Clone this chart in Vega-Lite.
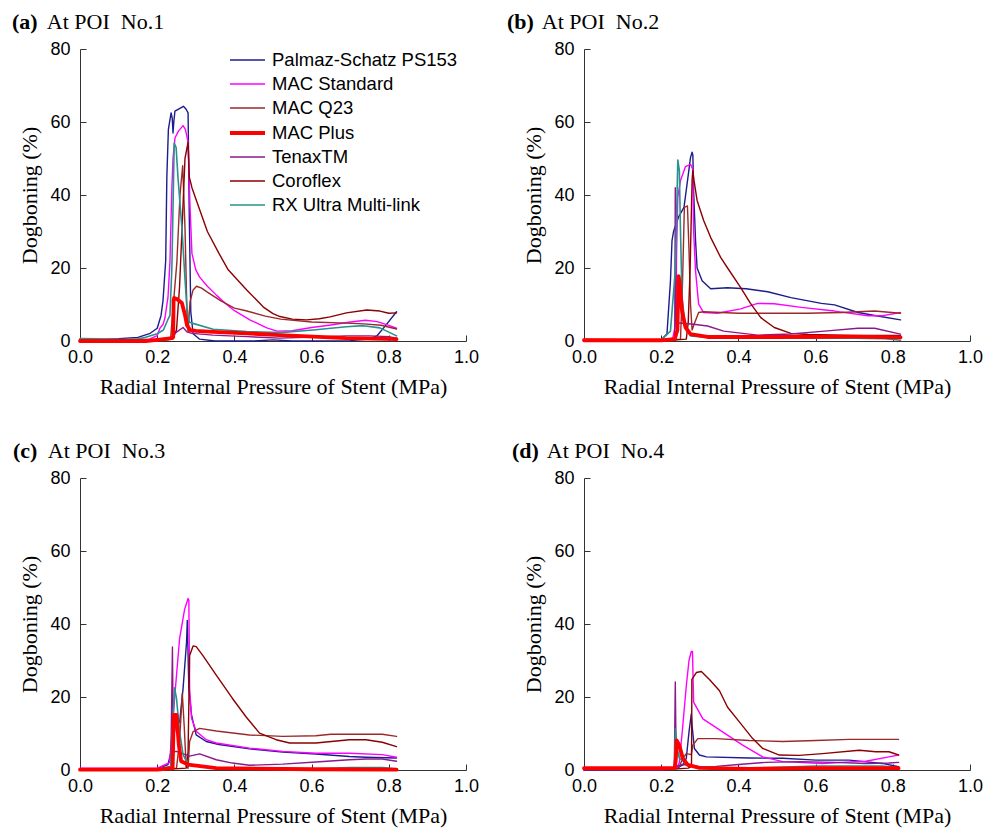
{
"$schema":"https://vega.github.io/schema/vega-lite/v6.json",
"autosize":{"type":"pad"},
"padding":{"left":12,"top":11,"right":5,"bottom":5},
"background":"white",
"datasets":{"dog":[
{"panel":"a","stent":"Palmaz-Schatz PS153","p":0,"d":0.5},{"panel":"a","stent":"Palmaz-Schatz PS153","p":0.05,"d":0.4},{"panel":"a","stent":"Palmaz-Schatz PS153","p":0.1,"d":0.6},{"panel":"a","stent":"Palmaz-Schatz PS153","p":0.15,"d":1},{"panel":"a","stent":"Palmaz-Schatz PS153","p":0.18,"d":2},{"panel":"a","stent":"Palmaz-Schatz PS153","p":0.2,"d":3.5},{"panel":"a","stent":"Palmaz-Schatz PS153","p":0.21,"d":7},{"panel":"a","stent":"Palmaz-Schatz PS153","p":0.215,"d":11},{"panel":"a","stent":"Palmaz-Schatz PS153","p":0.222,"d":22},{"panel":"a","stent":"Palmaz-Schatz PS153","p":0.225,"d":45},{"panel":"a","stent":"Palmaz-Schatz PS153","p":0.229,"d":58},{"panel":"a","stent":"Palmaz-Schatz PS153","p":0.236,"d":62.5},{"panel":"a","stent":"Palmaz-Schatz PS153","p":0.239,"d":61},{"panel":"a","stent":"Palmaz-Schatz PS153","p":0.241,"d":57},{"panel":"a","stent":"Palmaz-Schatz PS153","p":0.243,"d":60},{"panel":"a","stent":"Palmaz-Schatz PS153","p":0.246,"d":63},{"panel":"a","stent":"Palmaz-Schatz PS153","p":0.26,"d":63.8},{"panel":"a","stent":"Palmaz-Schatz PS153","p":0.268,"d":64.3},{"panel":"a","stent":"Palmaz-Schatz PS153","p":0.275,"d":63.5},{"panel":"a","stent":"Palmaz-Schatz PS153","p":0.28,"d":62.5},{"panel":"a","stent":"Palmaz-Schatz PS153","p":0.283,"d":35},{"panel":"a","stent":"Palmaz-Schatz PS153","p":0.287,"d":8},{"panel":"a","stent":"Palmaz-Schatz PS153","p":0.293,"d":2},{"panel":"a","stent":"Palmaz-Schatz PS153","p":0.31,"d":0.5},{"panel":"a","stent":"Palmaz-Schatz PS153","p":0.35,"d":0},{"panel":"a","stent":"Palmaz-Schatz PS153","p":0.45,"d":0},{"panel":"a","stent":"Palmaz-Schatz PS153","p":0.5,"d":0.3},{"panel":"a","stent":"Palmaz-Schatz PS153","p":0.55,"d":0},{"panel":"a","stent":"Palmaz-Schatz PS153","p":0.7,"d":0.1},{"panel":"a","stent":"Palmaz-Schatz PS153","p":0.75,"d":0.5},{"panel":"a","stent":"Palmaz-Schatz PS153","p":0.77,"d":1.5},{"panel":"a","stent":"Palmaz-Schatz PS153","p":0.79,"d":4},{"panel":"a","stent":"Palmaz-Schatz PS153","p":0.82,"d":8},
{"panel":"a","stent":"MAC Standard","p":0,"d":0.3},{"panel":"a","stent":"MAC Standard","p":0.1,"d":0.2},{"panel":"a","stent":"MAC Standard","p":0.18,"d":0.5},{"panel":"a","stent":"MAC Standard","p":0.2,"d":1.5},{"panel":"a","stent":"MAC Standard","p":0.207,"d":3.5},{"panel":"a","stent":"MAC Standard","p":0.215,"d":4.5},{"panel":"a","stent":"MAC Standard","p":0.22,"d":6.3},{"panel":"a","stent":"MAC Standard","p":0.228,"d":12},{"panel":"a","stent":"MAC Standard","p":0.233,"d":21.6},{"panel":"a","stent":"MAC Standard","p":0.238,"d":42},{"panel":"a","stent":"MAC Standard","p":0.241,"d":50},{"panel":"a","stent":"MAC Standard","p":0.246,"d":55.6},{"panel":"a","stent":"MAC Standard","p":0.255,"d":57.5},{"panel":"a","stent":"MAC Standard","p":0.267,"d":59},{"panel":"a","stent":"MAC Standard","p":0.273,"d":58},{"panel":"a","stent":"MAC Standard","p":0.28,"d":54.5},{"panel":"a","stent":"MAC Standard","p":0.285,"d":37},{"panel":"a","stent":"MAC Standard","p":0.29,"d":24},{"panel":"a","stent":"MAC Standard","p":0.3,"d":19.5},{"panel":"a","stent":"MAC Standard","p":0.31,"d":17.5},{"panel":"a","stent":"MAC Standard","p":0.33,"d":15},{"panel":"a","stent":"MAC Standard","p":0.354,"d":12.5},{"panel":"a","stent":"MAC Standard","p":0.38,"d":10},{"panel":"a","stent":"MAC Standard","p":0.4,"d":8.3},{"panel":"a","stent":"MAC Standard","p":0.44,"d":5.8},{"panel":"a","stent":"MAC Standard","p":0.484,"d":3.6},{"panel":"a","stent":"MAC Standard","p":0.51,"d":2.7},{"panel":"a","stent":"MAC Standard","p":0.55,"d":2.8},{"panel":"a","stent":"MAC Standard","p":0.6,"d":3.7},{"panel":"a","stent":"MAC Standard","p":0.65,"d":4.4},{"panel":"a","stent":"MAC Standard","p":0.7,"d":5.2},{"panel":"a","stent":"MAC Standard","p":0.74,"d":5.7},{"panel":"a","stent":"MAC Standard","p":0.77,"d":5.3},{"panel":"a","stent":"MAC Standard","p":0.8,"d":4.3},{"panel":"a","stent":"MAC Standard","p":0.82,"d":3.5},
{"panel":"a","stent":"MAC Q23","p":0,"d":0},{"panel":"a","stent":"MAC Q23","p":0.2,"d":0},{"panel":"a","stent":"MAC Q23","p":0.235,"d":1},{"panel":"a","stent":"MAC Q23","p":0.241,"d":9},{"panel":"a","stent":"MAC Q23","p":0.251,"d":21.6},{"panel":"a","stent":"MAC Q23","p":0.259,"d":40},{"panel":"a","stent":"MAC Q23","p":0.266,"d":48},{"panel":"a","stent":"MAC Q23","p":0.272,"d":31},{"panel":"a","stent":"MAC Q23","p":0.277,"d":8},{"panel":"a","stent":"MAC Q23","p":0.28,"d":2.5},{"panel":"a","stent":"MAC Q23","p":0.285,"d":10.7},{"panel":"a","stent":"MAC Q23","p":0.293,"d":14},{"panel":"a","stent":"MAC Q23","p":0.302,"d":15},{"panel":"a","stent":"MAC Q23","p":0.315,"d":14.5},{"panel":"a","stent":"MAC Q23","p":0.33,"d":13.4},{"panel":"a","stent":"MAC Q23","p":0.365,"d":11},{"panel":"a","stent":"MAC Q23","p":0.4,"d":9},{"panel":"a","stent":"MAC Q23","p":0.43,"d":8.3},{"panel":"a","stent":"MAC Q23","p":0.48,"d":6.8},{"panel":"a","stent":"MAC Q23","p":0.52,"d":6},{"panel":"a","stent":"MAC Q23","p":0.6,"d":5.2},{"panel":"a","stent":"MAC Q23","p":0.69,"d":4.9},{"panel":"a","stent":"MAC Q23","p":0.735,"d":4.7},{"panel":"a","stent":"MAC Q23","p":0.78,"d":4.3},{"panel":"a","stent":"MAC Q23","p":0.82,"d":3.3},
{"panel":"a","stent":"Coroflex","p":0,"d":0},{"panel":"a","stent":"Coroflex","p":0.2,"d":0},{"panel":"a","stent":"Coroflex","p":0.24,"d":0.5},{"panel":"a","stent":"Coroflex","p":0.25,"d":3},{"panel":"a","stent":"Coroflex","p":0.258,"d":15},{"panel":"a","stent":"Coroflex","p":0.266,"d":35},{"panel":"a","stent":"Coroflex","p":0.272,"d":50},{"panel":"a","stent":"Coroflex","p":0.28,"d":54.5},{"panel":"a","stent":"Coroflex","p":0.283,"d":45},{"panel":"a","stent":"Coroflex","p":0.29,"d":42},{"panel":"a","stent":"Coroflex","p":0.3,"d":39},{"panel":"a","stent":"Coroflex","p":0.33,"d":30},{"panel":"a","stent":"Coroflex","p":0.36,"d":24},{"panel":"a","stent":"Coroflex","p":0.384,"d":19.5},{"panel":"a","stent":"Coroflex","p":0.41,"d":16.5},{"panel":"a","stent":"Coroflex","p":0.432,"d":14},{"panel":"a","stent":"Coroflex","p":0.455,"d":11.5},{"panel":"a","stent":"Coroflex","p":0.475,"d":9.3},{"panel":"a","stent":"Coroflex","p":0.5,"d":7.5},{"panel":"a","stent":"Coroflex","p":0.518,"d":6.7},{"panel":"a","stent":"Coroflex","p":0.55,"d":6},{"panel":"a","stent":"Coroflex","p":0.587,"d":5.8},{"panel":"a","stent":"Coroflex","p":0.62,"d":6.1},{"panel":"a","stent":"Coroflex","p":0.648,"d":6.6},{"panel":"a","stent":"Coroflex","p":0.69,"d":7.7},{"panel":"a","stent":"Coroflex","p":0.743,"d":8.5},{"panel":"a","stent":"Coroflex","p":0.777,"d":8.2},{"panel":"a","stent":"Coroflex","p":0.8,"d":7.6},{"panel":"a","stent":"Coroflex","p":0.82,"d":7.7},
{"panel":"a","stent":"TenaxTM","p":0,"d":0.2},{"panel":"a","stent":"TenaxTM","p":0.2,"d":0.2},{"panel":"a","stent":"TenaxTM","p":0.235,"d":0.8},{"panel":"a","stent":"TenaxTM","p":0.245,"d":2},{"panel":"a","stent":"TenaxTM","p":0.251,"d":2.5},{"panel":"a","stent":"TenaxTM","p":0.267,"d":3.7},{"panel":"a","stent":"TenaxTM","p":0.277,"d":2.5},{"panel":"a","stent":"TenaxTM","p":0.29,"d":2.1},{"panel":"a","stent":"TenaxTM","p":0.345,"d":1.6},{"panel":"a","stent":"TenaxTM","p":0.432,"d":1.2},{"panel":"a","stent":"TenaxTM","p":0.518,"d":0.8},{"panel":"a","stent":"TenaxTM","p":0.604,"d":1.1},{"panel":"a","stent":"TenaxTM","p":0.69,"d":1.4},{"panel":"a","stent":"TenaxTM","p":0.75,"d":1.4},{"panel":"a","stent":"TenaxTM","p":0.8,"d":1.2},{"panel":"a","stent":"TenaxTM","p":0.82,"d":0.8},
{"panel":"a","stent":"RX Ultra Multi-link","p":0,"d":0.7},{"panel":"a","stent":"RX Ultra Multi-link","p":0.05,"d":0.6},{"panel":"a","stent":"RX Ultra Multi-link","p":0.1,"d":0.4},{"panel":"a","stent":"RX Ultra Multi-link","p":0.15,"d":0.6},{"panel":"a","stent":"RX Ultra Multi-link","p":0.17,"d":1},{"panel":"a","stent":"RX Ultra Multi-link","p":0.2,"d":2},{"panel":"a","stent":"RX Ultra Multi-link","p":0.216,"d":3},{"panel":"a","stent":"RX Ultra Multi-link","p":0.227,"d":5.7},{"panel":"a","stent":"RX Ultra Multi-link","p":0.233,"d":7},{"panel":"a","stent":"RX Ultra Multi-link","p":0.238,"d":20},{"panel":"a","stent":"RX Ultra Multi-link","p":0.24,"d":31},{"panel":"a","stent":"RX Ultra Multi-link","p":0.244,"d":54.2},{"panel":"a","stent":"RX Ultra Multi-link","p":0.249,"d":53},{"panel":"a","stent":"RX Ultra Multi-link","p":0.254,"d":44.6},{"panel":"a","stent":"RX Ultra Multi-link","p":0.264,"d":31},{"panel":"a","stent":"RX Ultra Multi-link","p":0.272,"d":17},{"panel":"a","stent":"RX Ultra Multi-link","p":0.277,"d":9},{"panel":"a","stent":"RX Ultra Multi-link","p":0.283,"d":5.2},{"panel":"a","stent":"RX Ultra Multi-link","p":0.29,"d":4.9},{"panel":"a","stent":"RX Ultra Multi-link","p":0.345,"d":3.2},{"panel":"a","stent":"RX Ultra Multi-link","p":0.432,"d":2.6},{"panel":"a","stent":"RX Ultra Multi-link","p":0.518,"d":2.3},{"panel":"a","stent":"RX Ultra Multi-link","p":0.604,"d":3},{"panel":"a","stent":"RX Ultra Multi-link","p":0.69,"d":3.9},{"panel":"a","stent":"RX Ultra Multi-link","p":0.734,"d":4.2},{"panel":"a","stent":"RX Ultra Multi-link","p":0.777,"d":3.6},{"panel":"a","stent":"RX Ultra Multi-link","p":0.82,"d":1.4},
{"panel":"a","stent":"MAC Plus","p":0,"d":0},{"panel":"a","stent":"MAC Plus","p":0.17,"d":0},{"panel":"a","stent":"MAC Plus","p":0.2,"d":0.3},{"panel":"a","stent":"MAC Plus","p":0.233,"d":0.7},{"panel":"a","stent":"MAC Plus","p":0.2415,"d":1},{"panel":"a","stent":"MAC Plus","p":0.2425,"d":11.2},{"panel":"a","stent":"MAC Plus","p":0.244,"d":11.8},{"panel":"a","stent":"MAC Plus","p":0.251,"d":11.5},{"panel":"a","stent":"MAC Plus","p":0.264,"d":10.4},{"panel":"a","stent":"MAC Plus","p":0.272,"d":7.1},{"panel":"a","stent":"MAC Plus","p":0.277,"d":4.4},{"panel":"a","stent":"MAC Plus","p":0.285,"d":3},{"panel":"a","stent":"MAC Plus","p":0.3,"d":2.8},{"panel":"a","stent":"MAC Plus","p":0.345,"d":2.5},{"panel":"a","stent":"MAC Plus","p":0.432,"d":2.1},{"panel":"a","stent":"MAC Plus","p":0.518,"d":1.6},{"panel":"a","stent":"MAC Plus","p":0.604,"d":1.2},{"panel":"a","stent":"MAC Plus","p":0.69,"d":0.8},{"panel":"a","stent":"MAC Plus","p":0.82,"d":0.5},

{"panel":"b","stent":"Palmaz-Schatz PS153","p":0,"d":0.3},{"panel":"b","stent":"Palmaz-Schatz PS153","p":0.2,"d":0.3},{"panel":"b","stent":"Palmaz-Schatz PS153","p":0.215,"d":2},{"panel":"b","stent":"Palmaz-Schatz PS153","p":0.224,"d":16.5},{"panel":"b","stent":"Palmaz-Schatz PS153","p":0.228,"d":27.5},{"panel":"b","stent":"Palmaz-Schatz PS153","p":0.232,"d":30},{"panel":"b","stent":"Palmaz-Schatz PS153","p":0.245,"d":34},{"panel":"b","stent":"Palmaz-Schatz PS153","p":0.259,"d":36.6},{"panel":"b","stent":"Palmaz-Schatz PS153","p":0.267,"d":43},{"panel":"b","stent":"Palmaz-Schatz PS153","p":0.276,"d":50.3},{"panel":"b","stent":"Palmaz-Schatz PS153","p":0.28,"d":51.7},{"panel":"b","stent":"Palmaz-Schatz PS153","p":0.282,"d":51},{"panel":"b","stent":"Palmaz-Schatz PS153","p":0.284,"d":41},{"panel":"b","stent":"Palmaz-Schatz PS153","p":0.289,"d":27.5},{"panel":"b","stent":"Palmaz-Schatz PS153","p":0.293,"d":20},{"panel":"b","stent":"Palmaz-Schatz PS153","p":0.306,"d":16.5},{"panel":"b","stent":"Palmaz-Schatz PS153","p":0.328,"d":14.3},{"panel":"b","stent":"Palmaz-Schatz PS153","p":0.372,"d":14.6},{"panel":"b","stent":"Palmaz-Schatz PS153","p":0.42,"d":14.3},{"panel":"b","stent":"Palmaz-Schatz PS153","p":0.476,"d":13.5},{"panel":"b","stent":"Palmaz-Schatz PS153","p":0.536,"d":11.9},{"panel":"b","stent":"Palmaz-Schatz PS153","p":0.615,"d":10.3},{"panel":"b","stent":"Palmaz-Schatz PS153","p":0.649,"d":9.9},{"panel":"b","stent":"Palmaz-Schatz PS153","p":0.71,"d":7.8},{"panel":"b","stent":"Palmaz-Schatz PS153","p":0.753,"d":7},{"panel":"b","stent":"Palmaz-Schatz PS153","p":0.82,"d":5.8},
{"panel":"b","stent":"MAC Standard","p":0,"d":0.3},{"panel":"b","stent":"MAC Standard","p":0.2,"d":0.3},{"panel":"b","stent":"MAC Standard","p":0.23,"d":0.8},{"panel":"b","stent":"MAC Standard","p":0.238,"d":5},{"panel":"b","stent":"MAC Standard","p":0.24,"d":25},{"panel":"b","stent":"MAC Standard","p":0.243,"d":39.4},{"panel":"b","stent":"MAC Standard","p":0.25,"d":44},{"panel":"b","stent":"MAC Standard","p":0.263,"d":47.8},{"panel":"b","stent":"MAC Standard","p":0.276,"d":48.4},{"panel":"b","stent":"MAC Standard","p":0.282,"d":47},{"panel":"b","stent":"MAC Standard","p":0.284,"d":30},{"panel":"b","stent":"MAC Standard","p":0.289,"d":19.2},{"panel":"b","stent":"MAC Standard","p":0.297,"d":10.1},{"panel":"b","stent":"MAC Standard","p":0.31,"d":7.8},{"panel":"b","stent":"MAC Standard","p":0.346,"d":7.6},{"panel":"b","stent":"MAC Standard","p":0.406,"d":8.8},{"panel":"b","stent":"MAC Standard","p":0.45,"d":10.3},{"panel":"b","stent":"MAC Standard","p":0.493,"d":10.2},{"panel":"b","stent":"MAC Standard","p":0.563,"d":9.2},{"panel":"b","stent":"MAC Standard","p":0.649,"d":8.2},{"panel":"b","stent":"MAC Standard","p":0.736,"d":6.9},{"panel":"b","stent":"MAC Standard","p":0.771,"d":6.9},{"panel":"b","stent":"MAC Standard","p":0.82,"d":7.8},
{"panel":"b","stent":"MAC Q23","p":0,"d":0},{"panel":"b","stent":"MAC Q23","p":0.2,"d":0},{"panel":"b","stent":"MAC Q23","p":0.25,"d":0.5},{"panel":"b","stent":"MAC Q23","p":0.255,"d":15},{"panel":"b","stent":"MAC Q23","p":0.26,"d":36.6},{"panel":"b","stent":"MAC Q23","p":0.268,"d":37},{"panel":"b","stent":"MAC Q23","p":0.272,"d":25},{"panel":"b","stent":"MAC Q23","p":0.276,"d":10},{"panel":"b","stent":"MAC Q23","p":0.28,"d":3},{"panel":"b","stent":"MAC Q23","p":0.285,"d":4.5},{"panel":"b","stent":"MAC Q23","p":0.297,"d":7.8},{"panel":"b","stent":"MAC Q23","p":0.31,"d":8},{"panel":"b","stent":"MAC Q23","p":0.4,"d":7.6},{"panel":"b","stent":"MAC Q23","p":0.58,"d":7.6},{"panel":"b","stent":"MAC Q23","p":0.667,"d":7.8},{"panel":"b","stent":"MAC Q23","p":0.753,"d":8.2},{"panel":"b","stent":"MAC Q23","p":0.82,"d":7.6},
{"panel":"b","stent":"Coroflex","p":0,"d":0},{"panel":"b","stent":"Coroflex","p":0.2,"d":0},{"panel":"b","stent":"Coroflex","p":0.265,"d":0.5},{"panel":"b","stent":"Coroflex","p":0.27,"d":5},{"panel":"b","stent":"Coroflex","p":0.275,"d":20},{"panel":"b","stent":"Coroflex","p":0.28,"d":44},{"panel":"b","stent":"Coroflex","p":0.282,"d":46.7},{"panel":"b","stent":"Coroflex","p":0.285,"d":44},{"panel":"b","stent":"Coroflex","p":0.293,"d":38.5},{"panel":"b","stent":"Coroflex","p":0.31,"d":33},{"panel":"b","stent":"Coroflex","p":0.328,"d":28.4},{"panel":"b","stent":"Coroflex","p":0.354,"d":22.9},{"panel":"b","stent":"Coroflex","p":0.372,"d":20},{"panel":"b","stent":"Coroflex","p":0.406,"d":14.6},{"panel":"b","stent":"Coroflex","p":0.43,"d":10.5},{"panel":"b","stent":"Coroflex","p":0.458,"d":6.4},{"panel":"b","stent":"Coroflex","p":0.493,"d":3.7},{"panel":"b","stent":"Coroflex","p":0.536,"d":2.1},{"panel":"b","stent":"Coroflex","p":0.58,"d":1.8},{"panel":"b","stent":"Coroflex","p":0.7,"d":1.5},{"panel":"b","stent":"Coroflex","p":0.82,"d":1.5},
{"panel":"b","stent":"TenaxTM","p":0,"d":0},{"panel":"b","stent":"TenaxTM","p":0.2,"d":0},{"panel":"b","stent":"TenaxTM","p":0.235,"d":0.5},{"panel":"b","stent":"TenaxTM","p":0.2365,"d":42},{"panel":"b","stent":"TenaxTM","p":0.238,"d":5},{"panel":"b","stent":"TenaxTM","p":0.241,"d":5},{"panel":"b","stent":"TenaxTM","p":0.284,"d":4.6},{"panel":"b","stent":"TenaxTM","p":0.32,"d":4.1},{"panel":"b","stent":"TenaxTM","p":0.362,"d":2.7},{"panel":"b","stent":"TenaxTM","p":0.45,"d":1.6},{"panel":"b","stent":"TenaxTM","p":0.536,"d":1.9},{"panel":"b","stent":"TenaxTM","p":0.623,"d":2.7},{"panel":"b","stent":"TenaxTM","p":0.71,"d":3.5},{"panel":"b","stent":"TenaxTM","p":0.753,"d":3.5},{"panel":"b","stent":"TenaxTM","p":0.82,"d":1.9},
{"panel":"b","stent":"RX Ultra Multi-link","p":0,"d":0.5},{"panel":"b","stent":"RX Ultra Multi-link","p":0.1,"d":0.3},{"panel":"b","stent":"RX Ultra Multi-link","p":0.2,"d":0.3},{"panel":"b","stent":"RX Ultra Multi-link","p":0.224,"d":2.7},{"panel":"b","stent":"RX Ultra Multi-link","p":0.237,"d":20},{"panel":"b","stent":"RX Ultra Multi-link","p":0.243,"d":49.6},{"panel":"b","stent":"RX Ultra Multi-link","p":0.247,"d":46.7},{"panel":"b","stent":"RX Ultra Multi-link","p":0.25,"d":30},{"panel":"b","stent":"RX Ultra Multi-link","p":0.254,"d":11.9},{"panel":"b","stent":"RX Ultra Multi-link","p":0.263,"d":3.7},{"panel":"b","stent":"RX Ultra Multi-link","p":0.276,"d":1.4},{"panel":"b","stent":"RX Ultra Multi-link","p":0.35,"d":0.8},{"panel":"b","stent":"RX Ultra Multi-link","p":0.7,"d":0.8},{"panel":"b","stent":"RX Ultra Multi-link","p":0.78,"d":0.6},{"panel":"b","stent":"RX Ultra Multi-link","p":0.82,"d":0.2},
{"panel":"b","stent":"MAC Plus","p":0,"d":0.2},{"panel":"b","stent":"MAC Plus","p":0.2,"d":0.2},{"panel":"b","stent":"MAC Plus","p":0.235,"d":0.5},{"panel":"b","stent":"MAC Plus","p":0.242,"d":3},{"panel":"b","stent":"MAC Plus","p":0.245,"d":17.8},{"panel":"b","stent":"MAC Plus","p":0.248,"d":16},{"panel":"b","stent":"MAC Plus","p":0.254,"d":8.2},{"panel":"b","stent":"MAC Plus","p":0.263,"d":3.7},{"panel":"b","stent":"MAC Plus","p":0.276,"d":1.9},{"panel":"b","stent":"MAC Plus","p":0.32,"d":1.1},{"panel":"b","stent":"MAC Plus","p":0.5,"d":1.1},{"panel":"b","stent":"MAC Plus","p":0.7,"d":1.2},{"panel":"b","stent":"MAC Plus","p":0.82,"d":1},

{"panel":"c","stent":"Palmaz-Schatz PS153","p":0,"d":0.3},{"panel":"c","stent":"Palmaz-Schatz PS153","p":0.2,"d":0.3},{"panel":"c","stent":"Palmaz-Schatz PS153","p":0.228,"d":1.5},{"panel":"c","stent":"Palmaz-Schatz PS153","p":0.24,"d":6.9},{"panel":"c","stent":"Palmaz-Schatz PS153","p":0.25,"d":14.2},{"panel":"c","stent":"Palmaz-Schatz PS153","p":0.258,"d":13},{"panel":"c","stent":"Palmaz-Schatz PS153","p":0.267,"d":22.3},{"panel":"c","stent":"Palmaz-Schatz PS153","p":0.276,"d":35},{"panel":"c","stent":"Palmaz-Schatz PS153","p":0.278,"d":41},{"panel":"c","stent":"Palmaz-Schatz PS153","p":0.282,"d":22.3},{"panel":"c","stent":"Palmaz-Schatz PS153","p":0.289,"d":15},{"panel":"c","stent":"Palmaz-Schatz PS153","p":0.301,"d":9.6},{"panel":"c","stent":"Palmaz-Schatz PS153","p":0.327,"d":7.8},{"panel":"c","stent":"Palmaz-Schatz PS153","p":0.36,"d":7},{"panel":"c","stent":"Palmaz-Schatz PS153","p":0.439,"d":5.8},{"panel":"c","stent":"Palmaz-Schatz PS153","p":0.525,"d":4.9},{"panel":"c","stent":"Palmaz-Schatz PS153","p":0.611,"d":4.4},{"panel":"c","stent":"Palmaz-Schatz PS153","p":0.698,"d":3.7},{"panel":"c","stent":"Palmaz-Schatz PS153","p":0.741,"d":3.5},{"panel":"c","stent":"Palmaz-Schatz PS153","p":0.82,"d":3.3},
{"panel":"c","stent":"MAC Standard","p":0,"d":0.5},{"panel":"c","stent":"MAC Standard","p":0.2,"d":0.5},{"panel":"c","stent":"MAC Standard","p":0.232,"d":2},{"panel":"c","stent":"MAC Standard","p":0.245,"d":19.6},{"panel":"c","stent":"MAC Standard","p":0.258,"d":36},{"panel":"c","stent":"MAC Standard","p":0.271,"d":44},{"panel":"c","stent":"MAC Standard","p":0.28,"d":47},{"panel":"c","stent":"MAC Standard","p":0.282,"d":46.5},{"panel":"c","stent":"MAC Standard","p":0.284,"d":22.3},{"panel":"c","stent":"MAC Standard","p":0.289,"d":14.2},{"panel":"c","stent":"MAC Standard","p":0.301,"d":10.6},{"panel":"c","stent":"MAC Standard","p":0.327,"d":8.3},{"panel":"c","stent":"MAC Standard","p":0.353,"d":7.4},{"panel":"c","stent":"MAC Standard","p":0.439,"d":6},{"panel":"c","stent":"MAC Standard","p":0.525,"d":5.1},{"panel":"c","stent":"MAC Standard","p":0.611,"d":4.6},{"panel":"c","stent":"MAC Standard","p":0.698,"d":4.6},{"panel":"c","stent":"MAC Standard","p":0.783,"d":4.2},{"panel":"c","stent":"MAC Standard","p":0.82,"d":3.5},
{"panel":"c","stent":"MAC Q23","p":0,"d":0},{"panel":"c","stent":"MAC Q23","p":0.2,"d":0},{"panel":"c","stent":"MAC Q23","p":0.25,"d":0.5},{"panel":"c","stent":"MAC Q23","p":0.258,"d":8},{"panel":"c","stent":"MAC Q23","p":0.265,"d":21},{"panel":"c","stent":"MAC Q23","p":0.27,"d":12},{"panel":"c","stent":"MAC Q23","p":0.275,"d":1},{"panel":"c","stent":"MAC Q23","p":0.28,"d":0.5},{"panel":"c","stent":"MAC Q23","p":0.284,"d":7.8},{"panel":"c","stent":"MAC Q23","p":0.293,"d":10.5},{"panel":"c","stent":"MAC Q23","p":0.31,"d":11.4},{"panel":"c","stent":"MAC Q23","p":0.353,"d":10.7},{"panel":"c","stent":"MAC Q23","p":0.439,"d":9.6},{"panel":"c","stent":"MAC Q23","p":0.525,"d":9.2},{"panel":"c","stent":"MAC Q23","p":0.611,"d":9.4},{"panel":"c","stent":"MAC Q23","p":0.65,"d":9.8},{"panel":"c","stent":"MAC Q23","p":0.783,"d":9.8},{"panel":"c","stent":"MAC Q23","p":0.82,"d":9.2},
{"panel":"c","stent":"Coroflex","p":0,"d":0},{"panel":"c","stent":"Coroflex","p":0.2,"d":0},{"panel":"c","stent":"Coroflex","p":0.275,"d":0.5},{"panel":"c","stent":"Coroflex","p":0.28,"d":5},{"panel":"c","stent":"Coroflex","p":0.284,"d":31.4},{"panel":"c","stent":"Coroflex","p":0.293,"d":34},{"panel":"c","stent":"Coroflex","p":0.301,"d":33.8},{"panel":"c","stent":"Coroflex","p":0.318,"d":31.4},{"panel":"c","stent":"Coroflex","p":0.353,"d":26},{"panel":"c","stent":"Coroflex","p":0.395,"d":19.6},{"panel":"c","stent":"Coroflex","p":0.43,"d":14.6},{"panel":"c","stent":"Coroflex","p":0.465,"d":10.1},{"panel":"c","stent":"Coroflex","p":0.508,"d":8.3},{"panel":"c","stent":"Coroflex","p":0.543,"d":7.4},{"panel":"c","stent":"Coroflex","p":0.611,"d":7.4},{"panel":"c","stent":"Coroflex","p":0.698,"d":8.3},{"panel":"c","stent":"Coroflex","p":0.741,"d":8.3},{"panel":"c","stent":"Coroflex","p":0.783,"d":7.6},{"panel":"c","stent":"Coroflex","p":0.82,"d":6.4},
{"panel":"c","stent":"TenaxTM","p":0,"d":0.3},{"panel":"c","stent":"TenaxTM","p":0.2,"d":0.3},{"panel":"c","stent":"TenaxTM","p":0.235,"d":0.5},{"panel":"c","stent":"TenaxTM","p":0.2395,"d":33.7},{"panel":"c","stent":"TenaxTM","p":0.242,"d":5},{"panel":"c","stent":"TenaxTM","p":0.25,"d":5.1},{"panel":"c","stent":"TenaxTM","p":0.284,"d":3.8},{"panel":"c","stent":"TenaxTM","p":0.31,"d":4.4},{"panel":"c","stent":"TenaxTM","p":0.353,"d":2.8},{"panel":"c","stent":"TenaxTM","p":0.395,"d":1.9},{"panel":"c","stent":"TenaxTM","p":0.439,"d":1.3},{"panel":"c","stent":"TenaxTM","p":0.525,"d":1.6},{"panel":"c","stent":"TenaxTM","p":0.611,"d":2.2},{"panel":"c","stent":"TenaxTM","p":0.698,"d":2.8},{"panel":"c","stent":"TenaxTM","p":0.741,"d":3},{"panel":"c","stent":"TenaxTM","p":0.783,"d":3},{"panel":"c","stent":"TenaxTM","p":0.82,"d":2.4},
{"panel":"c","stent":"RX Ultra Multi-link","p":0,"d":0.2},{"panel":"c","stent":"RX Ultra Multi-link","p":0.2,"d":0.2},{"panel":"c","stent":"RX Ultra Multi-link","p":0.235,"d":1},{"panel":"c","stent":"RX Ultra Multi-link","p":0.245,"d":22.5},{"panel":"c","stent":"RX Ultra Multi-link","p":0.25,"d":19.6},{"panel":"c","stent":"RX Ultra Multi-link","p":0.258,"d":10.5},{"panel":"c","stent":"RX Ultra Multi-link","p":0.267,"d":4.2},{"panel":"c","stent":"RX Ultra Multi-link","p":0.28,"d":1.5},{"panel":"c","stent":"RX Ultra Multi-link","p":0.353,"d":0.5},{"panel":"c","stent":"RX Ultra Multi-link","p":0.611,"d":0.3},{"panel":"c","stent":"RX Ultra Multi-link","p":0.698,"d":0.7},{"panel":"c","stent":"RX Ultra Multi-link","p":0.783,"d":0.7},{"panel":"c","stent":"RX Ultra Multi-link","p":0.82,"d":0.3},
{"panel":"c","stent":"MAC Plus","p":0,"d":0.1},{"panel":"c","stent":"MAC Plus","p":0.2,"d":0.1},{"panel":"c","stent":"MAC Plus","p":0.24,"d":0.5},{"panel":"c","stent":"MAC Plus","p":0.243,"d":15.1},{"panel":"c","stent":"MAC Plus","p":0.25,"d":15.1},{"panel":"c","stent":"MAC Plus","p":0.256,"d":6.9},{"panel":"c","stent":"MAC Plus","p":0.262,"d":2.4},{"panel":"c","stent":"MAC Plus","p":0.28,"d":1.5},{"panel":"c","stent":"MAC Plus","p":0.353,"d":0.5},{"panel":"c","stent":"MAC Plus","p":0.6,"d":0.2},{"panel":"c","stent":"MAC Plus","p":0.82,"d":0.1},

{"panel":"d","stent":"Palmaz-Schatz PS153","p":0,"d":0.2},{"panel":"d","stent":"Palmaz-Schatz PS153","p":0.2,"d":0.2},{"panel":"d","stent":"Palmaz-Schatz PS153","p":0.24,"d":0.5},{"panel":"d","stent":"Palmaz-Schatz PS153","p":0.256,"d":1.4},{"panel":"d","stent":"Palmaz-Schatz PS153","p":0.265,"d":3.2},{"panel":"d","stent":"Palmaz-Schatz PS153","p":0.272,"d":10.4},{"panel":"d","stent":"Palmaz-Schatz PS153","p":0.278,"d":15.4},{"panel":"d","stent":"Palmaz-Schatz PS153","p":0.28,"d":12.2},{"panel":"d","stent":"Palmaz-Schatz PS153","p":0.286,"d":5.9},{"panel":"d","stent":"Palmaz-Schatz PS153","p":0.299,"d":4.1},{"panel":"d","stent":"Palmaz-Schatz PS153","p":0.317,"d":3.6},{"panel":"d","stent":"Palmaz-Schatz PS153","p":0.428,"d":3.3},{"panel":"d","stent":"Palmaz-Schatz PS153","p":0.515,"d":3.2},{"panel":"d","stent":"Palmaz-Schatz PS153","p":0.601,"d":2.7},{"panel":"d","stent":"Palmaz-Schatz PS153","p":0.687,"d":2.7},{"panel":"d","stent":"Palmaz-Schatz PS153","p":0.773,"d":1.8},{"panel":"d","stent":"Palmaz-Schatz PS153","p":0.815,"d":0.9},
{"panel":"d","stent":"MAC Standard","p":0,"d":0.3},{"panel":"d","stent":"MAC Standard","p":0.2,"d":0.3},{"panel":"d","stent":"MAC Standard","p":0.24,"d":0.5},{"panel":"d","stent":"MAC Standard","p":0.247,"d":2},{"panel":"d","stent":"MAC Standard","p":0.256,"d":12.2},{"panel":"d","stent":"MAC Standard","p":0.265,"d":23},{"panel":"d","stent":"MAC Standard","p":0.272,"d":30},{"panel":"d","stent":"MAC Standard","p":0.278,"d":32.5},{"panel":"d","stent":"MAC Standard","p":0.281,"d":32.5},{"panel":"d","stent":"MAC Standard","p":0.284,"d":18.6},{"panel":"d","stent":"MAC Standard","p":0.308,"d":14},{"panel":"d","stent":"MAC Standard","p":0.36,"d":10.4},{"panel":"d","stent":"MAC Standard","p":0.411,"d":6.8},{"panel":"d","stent":"MAC Standard","p":0.463,"d":3.6},{"panel":"d","stent":"MAC Standard","p":0.515,"d":2.3},{"panel":"d","stent":"MAC Standard","p":0.618,"d":1.8},{"panel":"d","stent":"MAC Standard","p":0.704,"d":2.3},{"panel":"d","stent":"MAC Standard","p":0.73,"d":2.4},{"panel":"d","stent":"MAC Standard","p":0.79,"d":3.6},{"panel":"d","stent":"MAC Standard","p":0.815,"d":4.1},
{"panel":"d","stent":"MAC Q23","p":0,"d":0},{"panel":"d","stent":"MAC Q23","p":0.2,"d":0},{"panel":"d","stent":"MAC Q23","p":0.245,"d":0.5},{"panel":"d","stent":"MAC Q23","p":0.256,"d":3.2},{"panel":"d","stent":"MAC Q23","p":0.265,"d":4.5},{"panel":"d","stent":"MAC Q23","p":0.278,"d":4.2},{"panel":"d","stent":"MAC Q23","p":0.282,"d":6.8},{"panel":"d","stent":"MAC Q23","p":0.295,"d":8.6},{"panel":"d","stent":"MAC Q23","p":0.342,"d":8.6},{"panel":"d","stent":"MAC Q23","p":0.428,"d":8.1},{"panel":"d","stent":"MAC Q23","p":0.515,"d":7.8},{"panel":"d","stent":"MAC Q23","p":0.601,"d":8.1},{"panel":"d","stent":"MAC Q23","p":0.687,"d":8.4},{"panel":"d","stent":"MAC Q23","p":0.815,"d":8.4},
{"panel":"d","stent":"Coroflex","p":0,"d":0},{"panel":"d","stent":"Coroflex","p":0.2,"d":0},{"panel":"d","stent":"Coroflex","p":0.27,"d":0.5},{"panel":"d","stent":"Coroflex","p":0.2785,"d":1},{"panel":"d","stent":"Coroflex","p":0.2795,"d":24.8},{"panel":"d","stent":"Coroflex","p":0.291,"d":26.7},{"panel":"d","stent":"Coroflex","p":0.304,"d":27},{"panel":"d","stent":"Coroflex","p":0.325,"d":24.8},{"panel":"d","stent":"Coroflex","p":0.351,"d":21.7},{"panel":"d","stent":"Coroflex","p":0.372,"d":17.2},{"panel":"d","stent":"Coroflex","p":0.403,"d":13.1},{"panel":"d","stent":"Coroflex","p":0.437,"d":8.6},{"panel":"d","stent":"Coroflex","p":0.463,"d":5.9},{"panel":"d","stent":"Coroflex","p":0.506,"d":4.1},{"panel":"d","stent":"Coroflex","p":0.558,"d":4},{"panel":"d","stent":"Coroflex","p":0.618,"d":4.5},{"panel":"d","stent":"Coroflex","p":0.713,"d":5.4},{"panel":"d","stent":"Coroflex","p":0.756,"d":5},{"panel":"d","stent":"Coroflex","p":0.79,"d":5},{"panel":"d","stent":"Coroflex","p":0.815,"d":4.1},
{"panel":"d","stent":"TenaxTM","p":0,"d":0},{"panel":"d","stent":"TenaxTM","p":0.2,"d":0},{"panel":"d","stent":"TenaxTM","p":0.234,"d":0.3},{"panel":"d","stent":"TenaxTM","p":0.2365,"d":24.1},{"panel":"d","stent":"TenaxTM","p":0.239,"d":1},{"panel":"d","stent":"TenaxTM","p":0.256,"d":1.5},{"panel":"d","stent":"TenaxTM","p":0.299,"d":0.9},{"panel":"d","stent":"TenaxTM","p":0.342,"d":1},{"panel":"d","stent":"TenaxTM","p":0.4,"d":1.5},{"panel":"d","stent":"TenaxTM","p":0.472,"d":2.1},{"panel":"d","stent":"TenaxTM","p":0.56,"d":2.3},{"panel":"d","stent":"TenaxTM","p":0.65,"d":2.1},{"panel":"d","stent":"TenaxTM","p":0.73,"d":1.8},{"panel":"d","stent":"TenaxTM","p":0.79,"d":1.9},{"panel":"d","stent":"TenaxTM","p":0.815,"d":2.1},
{"panel":"d","stent":"RX Ultra Multi-link","p":0,"d":0.2},{"panel":"d","stent":"RX Ultra Multi-link","p":0.2,"d":0.2},{"panel":"d","stent":"RX Ultra Multi-link","p":0.234,"d":0.5},{"panel":"d","stent":"RX Ultra Multi-link","p":0.237,"d":11.3},{"panel":"d","stent":"RX Ultra Multi-link","p":0.24,"d":6.8},{"panel":"d","stent":"RX Ultra Multi-link","p":0.247,"d":3.2},{"panel":"d","stent":"RX Ultra Multi-link","p":0.265,"d":1.8},{"panel":"d","stent":"RX Ultra Multi-link","p":0.286,"d":0.9},{"panel":"d","stent":"RX Ultra Multi-link","p":0.428,"d":0.5},{"panel":"d","stent":"RX Ultra Multi-link","p":0.601,"d":1.1},{"panel":"d","stent":"RX Ultra Multi-link","p":0.773,"d":1.1},{"panel":"d","stent":"RX Ultra Multi-link","p":0.815,"d":0.6},
{"panel":"d","stent":"MAC Plus","p":0,"d":0.5},{"panel":"d","stent":"MAC Plus","p":0.2,"d":0.5},{"panel":"d","stent":"MAC Plus","p":0.235,"d":0.5},{"panel":"d","stent":"MAC Plus","p":0.238,"d":3},{"panel":"d","stent":"MAC Plus","p":0.24,"d":8.1},{"panel":"d","stent":"MAC Plus","p":0.247,"d":6.8},{"panel":"d","stent":"MAC Plus","p":0.256,"d":3.2},{"panel":"d","stent":"MAC Plus","p":0.269,"d":1.4},{"panel":"d","stent":"MAC Plus","p":0.299,"d":0.6},{"panel":"d","stent":"MAC Plus","p":0.428,"d":0.3},{"panel":"d","stent":"MAC Plus","p":0.6,"d":0.5},{"panel":"d","stent":"MAC Plus","p":0.815,"d":0.5}
]},
"concat":[
{"width":386,"height":292,"data":{"name":"dog"},"transform":[{"filter":"datum.panel == 'a'"}],
 "title":{"text":"(a)","subtitle":"\u200b\u00a0\u00a0\u00a0\u00a0\u00a0\u00a0\u200aAt POI\u00a0 No.1","dx":-68},
 "mark":{"type":"line","strokeJoin":"round","strokeCap":"round"},
 "encoding":{
  "x":{"field":"p","type":"quantitative","scale":{"domain":[0,1]},"axis":{"title":"Radial Internal Pressure of Stent (MPa)","values":[0,0.2,0.4,0.6,0.8,1],"format":".1f"}},
  "y":{"field":"d","type":"quantitative","scale":{"domain":[0,80]},"axis":{"title":"Dogboning (%)","values":[0,20,40,60,80],"format":"d"}},
  "color":{"field":"stent","type":"nominal","scale":{"domain":["Palmaz-Schatz PS153","MAC Standard","MAC Q23","MAC Plus","TenaxTM","Coroflex","RX Ultra Multi-link"],"range":["#1c1c8c","#ff00ff","#9a2a2a","#ff0000","#8a1a8a","#8b0000","#2a9090"]},
    "legend":{"orient":"none","legendX":153,"legendY":-2.5,"title":null,"symbolType":"M-1.4,0H1.4","symbolSize":625,"labelFont":"Liberation Sans","labelFontSize":18.5,"labelColor":"#000","labelLimit":400,"labelOffset":10,"rowPadding":1,
      "encode":{"symbols":{"update":{"strokeWidth":{"signal":"datum.value === 'MAC Plus' ? 4 : 1.5"}}}}}},
  "strokeWidth":{"field":"stent","type":"ordinal","scale":{"type":"ordinal","domain":["Palmaz-Schatz PS153","MAC Standard","MAC Q23","MAC Plus","TenaxTM","Coroflex","RX Ultra Multi-link"],"range":[1.4,1.4,1.4,3.8,1.4,1.4,1.6]},"legend":null}
 }},
{"width":386,"height":292,"data":{"name":"dog"},"transform":[{"filter":"datum.panel == 'b'"}],
 "title":{"text":"(b)","subtitle":"\u200b\u00a0\u00a0\u00a0\u00a0\u00a0\u00a0\u200aAt POI\u00a0 No.2","dx":-77},
 "mark":{"type":"line","strokeJoin":"round","strokeCap":"round"},
 "encoding":{
  "x":{"field":"p","type":"quantitative","scale":{"domain":[0,1]},"axis":{"title":"Radial Internal Pressure of Stent (MPa)","values":[0,0.2,0.4,0.6,0.8,1],"format":".1f"}},
  "y":{"field":"d","type":"quantitative","scale":{"domain":[0,80]},"axis":{"title":"Dogboning (%)","values":[0,20,40,60,80],"format":"d"}},
  "color":{"field":"stent","type":"nominal","scale":{"domain":["Palmaz-Schatz PS153","MAC Standard","MAC Q23","MAC Plus","TenaxTM","Coroflex","RX Ultra Multi-link"],"range":["#1c1c8c","#ff00ff","#9a2a2a","#ff0000","#8a1a8a","#8b0000","#2a9090"]},"legend":null},
  "strokeWidth":{"field":"stent","type":"ordinal","scale":{"type":"ordinal","domain":["Palmaz-Schatz PS153","MAC Standard","MAC Q23","MAC Plus","TenaxTM","Coroflex","RX Ultra Multi-link"],"range":[1.4,1.4,1.4,3.8,1.4,1.4,1.6]},"legend":null}
 }},
{"width":386,"height":292,"data":{"name":"dog"},"transform":[{"filter":"datum.panel == 'c'"}],
 "title":{"text":"(c)","subtitle":"\u200b\u00a0\u00a0\u00a0\u00a0\u00a0\u00a0\u200aAt POI\u00a0 No.3","dx":-67},
 "mark":{"type":"line","strokeJoin":"round","strokeCap":"round"},
 "encoding":{
  "x":{"field":"p","type":"quantitative","scale":{"domain":[0,1]},"axis":{"title":"Radial Internal Pressure of Stent (MPa)","values":[0,0.2,0.4,0.6,0.8,1],"format":".1f"}},
  "y":{"field":"d","type":"quantitative","scale":{"domain":[0,80]},"axis":{"title":"Dogboning (%)","values":[0,20,40,60,80],"format":"d"}},
  "color":{"field":"stent","type":"nominal","scale":{"domain":["Palmaz-Schatz PS153","MAC Standard","MAC Q23","MAC Plus","TenaxTM","Coroflex","RX Ultra Multi-link"],"range":["#1c1c8c","#ff00ff","#9a2a2a","#ff0000","#8a1a8a","#8b0000","#2a9090"]},"legend":null},
  "strokeWidth":{"field":"stent","type":"ordinal","scale":{"type":"ordinal","domain":["Palmaz-Schatz PS153","MAC Standard","MAC Q23","MAC Plus","TenaxTM","Coroflex","RX Ultra Multi-link"],"range":[1.4,1.4,1.4,3.8,1.4,1.4,1.6]},"legend":null}
 }},
{"width":386,"height":292,"data":{"name":"dog"},"transform":[{"filter":"datum.panel == 'd'"}],
 "title":{"text":"(d)","subtitle":"\u200b\u00a0\u00a0\u00a0\u00a0\u00a0\u00a0\u200aAt POI\u00a0 No.4","dx":-72},
 "mark":{"type":"line","strokeJoin":"round","strokeCap":"round"},
 "encoding":{
  "x":{"field":"p","type":"quantitative","scale":{"domain":[0,1]},"axis":{"title":"Radial Internal Pressure of Stent (MPa)","values":[0,0.2,0.4,0.6,0.8,1],"format":".1f"}},
  "y":{"field":"d","type":"quantitative","scale":{"domain":[0,80]},"axis":{"title":"Dogboning (%)","values":[0,20,40,60,80],"format":"d"}},
  "color":{"field":"stent","type":"nominal","scale":{"domain":["Palmaz-Schatz PS153","MAC Standard","MAC Q23","MAC Plus","TenaxTM","Coroflex","RX Ultra Multi-link"],"range":["#1c1c8c","#ff00ff","#9a2a2a","#ff0000","#8a1a8a","#8b0000","#2a9090"]},"legend":null},
  "strokeWidth":{"field":"stent","type":"ordinal","scale":{"type":"ordinal","domain":["Palmaz-Schatz PS153","MAC Standard","MAC Q23","MAC Plus","TenaxTM","Coroflex","RX Ultra Multi-link"],"range":[1.4,1.4,1.4,3.8,1.4,1.4,1.6]},"legend":null}
 }}
],
"columns":2,
"spacing":{"row":137,"column":118},
"bounds":"flush",
"resolve":{"scale":{"color":"independent","strokeWidth":"independent"}},
"config":{
 "view":{"stroke":null},
 "axis":{"grid":false,"domainColor":"#333","tickColor":"#333","domainWidth":1,"tickWidth":1,"tickSize":-6,"labelFont":"Liberation Sans","labelFontSize":18,"labelColor":"#000","titleFont":"Liberation Serif","titleFontSize":22,"titleFontWeight":"normal","titleColor":"#000"},
 "axisX":{"labelPadding":13,"titlePadding":10,"labelFlush":false},
 "axisY":{"labelPadding":16,"titlePadding":8},
 "title":{"anchor":"start","frame":"group","font":"Liberation Serif","fontSize":22,"fontWeight":"bold","color":"#000","subtitleFont":"Liberation Serif","subtitleFontSize":22,"subtitleFontWeight":"normal","subtitleColor":"#000","subtitlePadding":-22,"offset":6}
}
}
